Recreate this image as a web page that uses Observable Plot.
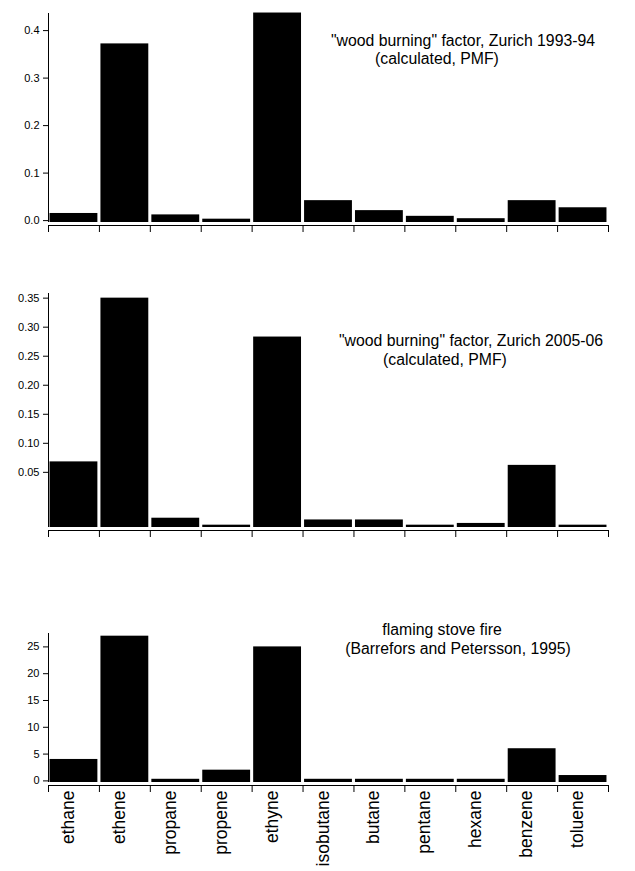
<!DOCTYPE html><html><head><meta charset="utf-8">
<script src="https://cdn.jsdelivr.net/npm/d3@7"></script>
<script src="https://cdn.jsdelivr.net/npm/@observablehq/plot@0.6"></script>
<style>body{margin:0;background:#fff;font-family:"Liberation Sans",Arial,sans-serif}
#c{position:relative;width:635px;height:871px}.t{position:absolute;font-size:15.8px;text-align:center;white-space:nowrap;transform:translateX(-50%)}</style>
</head><body><div id="c"></div>
<script>
const categories=["ethane","ethene","propane","propene","ethyne","isobutane","butane","pentane","hexane","benzene","toluene"];
const zurich9394=[0.015,0.372,0.012,0.003,0.437,0.042,0.021,0.009,0.004,0.042,0.027];
const zurich0506=[0.068,0.35,-0.029,-0.041,0.283,-0.032,-0.032,-0.041,-0.038,0.062,-0.041];
const stove=[4,27,0.3,2,25,0.3,0.3,0.3,0.3,6,1];
const ticks1=[0,0.1,0.2,0.3,0.4],ticks2=[0.05,0.1,0.15,0.2,0.25,0.3,0.35],ticks3=[0,5,10,15,20,25];
const c=document.getElementById("c");
function panel(vals,dom,ticks,fmt,h,mt,mb,top,labels){
  const data=vals.map((v,i)=>({i,v,name:categories[i]}));
  const marks=[
    Plot.rect(data,{x1:d=>d.i+0.03,x2:d=>d.i+0.97,y1:dom[0],y2:"v",fill:"black"}),
    Plot.ruleX([0],{stroke:"black"}),
    Plot.ruleY([dom[0]],{stroke:"black",dy:3}),
    Plot.axisX(d3.range(12),{tickSize:7,tickFormat:()=>"",dy:3,label:null}),
    Plot.axisY(ticks,{tickFormat:fmt,tickSize:5,fontSize:11,label:null})
  ];
  if(labels) marks.push(Plot.text(data,{x:d=>d.i+0.5,text:"name",frameAnchor:"bottom",dy:8,rotate:-90,textAnchor:"end",fontSize:17.5}));
  const p=Plot.plot({width:635,height:h,marginLeft:48,marginRight:27,marginTop:mt,marginBottom:mb,
    x:{domain:[0,11],axis:null},y:{domain:dom,axis:null},style:{fontFamily:"Liberation Sans, Arial, sans-serif",color:"black"},marks});
  p.style.position="absolute";p.style.top=top+"px";p.style.left="0px";c.appendChild(p);
}
panel(zurich9394,[-0.004,0.436],ticks1,d3.format(".1f"),240,13,18,0,false);
panel(zurich0506,[-0.045,0.358],ticks2,d3.format(".2f"),300,53,13,240,false);
panel(stove,[-0.3,27.5],ticks3,d3.format("d"),331,93,89,540,true);
function title(x,y,s){const d=document.createElement("div");d.className="t";d.style.left=x+"px";d.style.top=y+"px";d.textContent=s;c.appendChild(d);}
title(463,32,'"wood burning" factor, Zurich 1993-94');title(437,50,'(calculated, PMF)');
title(471,332,'"wood burning" factor, Zurich 2005-06');title(445,351,'(calculated, PMF)');
title(442,621,'flaming stove fire');title(458,640,'(Barrefors and Petersson, 1995)');
</script></body></html>
